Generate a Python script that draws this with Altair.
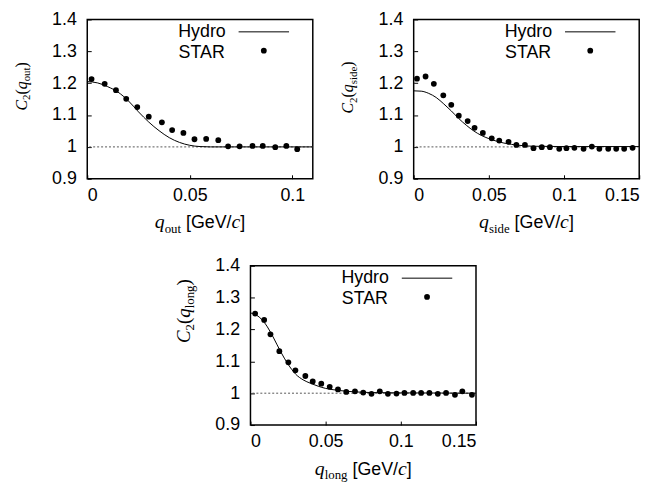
import altair as alt
import pandas as pd

# ---------------- data ----------------
# q_out panel
out_q = [0.0021, 0.0085, 0.0140, 0.0190, 0.0244, 0.0300, 0.0364, 0.0414, 0.0469, 0.0523,
         0.0580, 0.0639, 0.0687, 0.0743, 0.0806, 0.0856, 0.0917, 0.0971, 0.1024]
out_c2 = [1.213, 1.198, 1.178, 1.151, 1.125, 1.095, 1.077, 1.053, 1.044, 1.024,
          1.025, 1.021, 1.002, 1.002, 1.003, 1.003, 0.999, 1.003, 0.993]
out_hq = [0.000, 0.005, 0.010, 0.015, 0.020, 0.025, 0.030, 0.035, 0.040, 0.045,
          0.050, 0.055, 0.060, 0.070, 0.080, 0.090, 0.100, 0.110]
out_hc2 = [1.205, 1.201, 1.189, 1.172, 1.145, 1.110, 1.078, 1.051, 1.029, 1.014,
           1.005, 1.001, 1.000, 1.000, 1.000, 1.000, 1.000, 1.000]

# q_side panel
side_q = [0.0022, 0.0079, 0.0134, 0.0197, 0.0250, 0.0300, 0.0359, 0.0405, 0.0460, 0.0519,
          0.0569, 0.0631, 0.0683, 0.0740, 0.0797, 0.0852, 0.0906, 0.0968, 0.1016, 0.1069,
          0.1130, 0.1185, 0.1235, 0.1294, 0.1347, 0.1400, 0.1456]
side_c2 = [1.214, 1.221, 1.198, 1.162, 1.132, 1.098, 1.081, 1.060, 1.044, 1.027,
           1.020, 1.016, 1.006, 1.006, 0.996, 0.999, 0.999, 0.994, 0.996, 0.997,
           0.994, 1.001, 0.994, 0.994, 0.994, 0.994, 0.997]
side_hq = [0.000, 0.005, 0.010, 0.015, 0.020, 0.025, 0.030, 0.035, 0.040, 0.045,
           0.050, 0.055, 0.060, 0.065, 0.070, 0.080, 0.100, 0.120, 0.150]
side_hc2 = [1.176, 1.175, 1.168, 1.155, 1.135, 1.113, 1.089, 1.068, 1.050, 1.036,
            1.026, 1.018, 1.012, 1.008, 1.005, 1.002, 1.001, 1.001, 1.001]

# q_long panel
long_q = [0.0031, 0.0091, 0.0133, 0.0192, 0.0252, 0.0299, 0.0365, 0.0414, 0.0471, 0.0527,
          0.0582, 0.0637, 0.0695, 0.0750, 0.0805, 0.0860, 0.0914, 0.0971, 0.1024, 0.1082,
          0.1135, 0.1190, 0.1246, 0.1301, 0.1360, 0.1409, 0.1473]
long_c2 = [1.250, 1.230, 1.185, 1.132, 1.097, 1.072, 1.054, 1.037, 1.030, 1.020,
           1.012, 1.004, 1.006, 1.002, 0.998, 1.006, 0.998, 0.999, 1.001, 1.001,
           1.001, 1.001, 0.998, 1.001, 0.995, 1.006, 0.995]
long_hq = [0.000, 0.005, 0.010, 0.015, 0.020, 0.025, 0.030, 0.035, 0.040, 0.045,
           0.050, 0.055, 0.060, 0.070, 0.080, 0.100, 0.150]
long_hc2 = [1.252, 1.242, 1.217, 1.177, 1.131, 1.091, 1.060, 1.042, 1.031, 1.022,
            1.015, 1.011, 1.008, 1.004, 1.002, 1.001, 1.000]

y_ticks = [0.9, 1.0, 1.1, 1.2, 1.3, 1.4]
legend_labels = ["Hydro", "STAR"]

# ---------------- styling ----------------
W, H = 228, 161
SANS = "Liberation Sans"
SERIF = "Liberation Serif"

SERIF_W = {'q': .5, 'c': .444, 'C': .667, 'o': .5, 'u': .5, 't': .278, 's': .389,
           'i': .278, 'd': .5, 'e': .444, 'l': .278, 'n': .5, 'g': .5,
           '(': .333, ')': .333, '2': .5}
SANS_W = {'[': .278, 'G': .778, 'e': .556, 'V': .667, '/': .278, ']': .278}


def tw(s, font, size):
    table = SERIF_W if font == SERIF else SANS_W
    return sum(table[c] for c in s) * size


def piece(s, x, y, font, size, style="normal", angle=0, align="left"):
    return alt.Chart(pd.DataFrame({"s": [s]})).mark_text(
        font=font, fontSize=size, fontStyle=style, align=align,
        baseline="alphabetic", angle=angle, color="black"
    ).encode(x=alt.value(x), y=alt.value(y), text="s:N")


def x_title(sub):
    parts = [("q", SERIF, 20, "italic", 0, 0),
             (sub, SERIF, 13, "normal", 4.4, 0),
             ("[GeV/", SANS, 18, "normal", 0, 5),
             ("c", SERIF, 20, "italic", 0, 0),
             ("]", SANS, 18, "normal", 0, 0)]
    total = sum(tw(p[0], p[1], p[2]) + p[5] for p in parts)
    x = W / 2 - total / 2
    base = H + 50
    layers = []
    for s, f, sz, st, sh, gap in parts:
        x += gap
        layers.append(piece(s, x, base + sh, f, sz, st))
        x += tw(s, f, sz)
    return layers


def y_title(sub, bottom, F, f):
    sh = f * 0.3
    parts = [("C", SERIF, F, "italic", 0),
             ("2", SERIF, f, "normal", sh),
             ("(", SERIF, F, "normal", 0),
             ("q", SERIF, F, "italic", 0),
             (sub, SERIF, f, "normal", sh),
             (")", SERIF, F, "normal", 0)]
    bx = -61
    y = bottom
    layers = []
    for s, fnt, sz, st, shift in parts:
        layers.append(piece(s, bx + shift, y, fnt, sz, st, angle=270))
        y -= tw(s, fnt, sz)
    return layers


def legend():
    one = pd.DataFrame({"a": [0]})
    return [
        piece(legend_labels[0], 140, 17.5, SANS, 18, align="right"),
        alt.Chart(one).mark_rule(color="black", strokeWidth=1).encode(
            x=alt.value(153), x2=alt.value(204), y=alt.value(12.5)),
        piece(legend_labels[1], 139, 38.5, SANS, 18, align="right"),
        alt.Chart(one).mark_circle(color="black", size=34, opacity=1).encode(
            x=alt.value(178.5), y=alt.value(31.5)),
    ]


def panel(pq, pc2, hq, hc2, xmax, xticks, sub, ybottom, F, f):
    xs = alt.Scale(domain=[0, xmax], nice=False, zero=False)
    ys = alt.Scale(domain=[0.9, 1.4], nice=False, zero=False)
    xax = alt.Axis(values=xticks, format=".2~f", offset=-4, tickSize=4,
                   labelPadding=8, domain=False, grid=False)
    yax = alt.Axis(values=y_ticks, format=".1~f", offset=-4, tickSize=4,
                   labelPadding=11, domain=False, grid=False)
    pts = pd.DataFrame({"q": pq, "c2": pc2})
    hyd = pd.DataFrame({"q": hq, "c2": hc2})
    one_line = pd.DataFrame({"y": [1.0]})

    ref = alt.Chart(one_line).mark_rule(color="#555555", strokeDash=[2, 2], strokeWidth=1).encode(
        y=alt.Y("y:Q", scale=ys, axis=yax, title=None))
    line = alt.Chart(hyd).mark_line(color="black", strokeWidth=1, interpolate="monotone").encode(
        x=alt.X("q:Q", scale=xs, axis=xax, title=None),
        y=alt.Y("c2:Q", scale=ys, axis=yax, title=None))
    dots = alt.Chart(pts).mark_circle(color="black", size=34, opacity=1).encode(
        x=alt.X("q:Q", scale=xs, axis=xax, title=None),
        y=alt.Y("c2:Q", scale=ys, axis=yax, title=None))
    layers = [ref, line, dots] + legend() + x_title(sub) + y_title(sub, ybottom, F, f)
    return alt.layer(*layers).properties(width=W, height=H)


p1 = panel(out_q, out_c2, out_hq, out_hc2, 0.11, [0, 0.05, 0.1], "out", 92, 16, 11)
p2 = panel(side_q, side_c2, side_hq, side_hc2, 0.15, [0, 0.05, 0.1, 0.15], "side", 95, 16, 11)
p3 = panel(long_q, long_c2, long_hq, long_hc2, 0.15, [0, 0.05, 0.1, 0.15], "long", 78, 19, 13)

chart = alt.vconcat(
    alt.hconcat(p1, p2, spacing=24),
    p3,
    spacing=19,
    center=True,
).properties(
    padding={"left": 5, "top": -1, "right": 5, "bottom": 0}
).configure_view(
    stroke="black", strokeWidth=1.5
).configure_axis(
    labelFont=SANS, labelFontSize=18, labelColor="black", tickColor="black", tickWidth=1
)

chart.save("out.html", embed_options={"renderer": "svg", "actions": False})
